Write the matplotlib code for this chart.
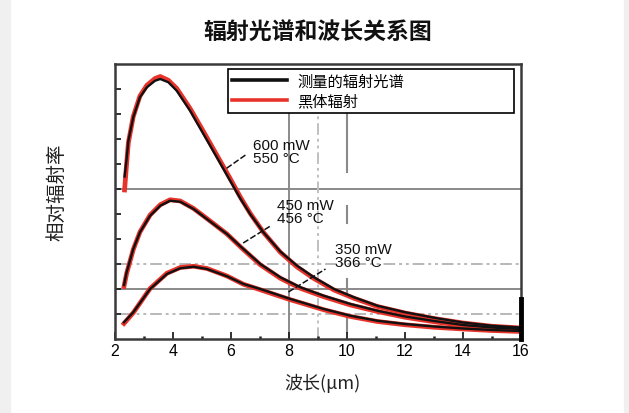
import matplotlib
matplotlib.use("Agg")
import matplotlib.pyplot as plt
from matplotlib.lines import Line2D
from matplotlib.patches import Rectangle

plt.rcParams['font.family'] = ['Liberation Sans', 'Noto Sans CJK SC', 'DejaVu Sans']
CJK = ['Noto Sans CJK SC', 'DejaVu Sans']

# === data ===
title = "辐射光谱和波长关系图"
x_label = "波长(μm)"
y_label = "相对辐射率"
legend_labels = ["测量的辐射光谱", "黑体辐射"]
x_ticks = [2, 4, 6, 8, 10, 12, 14, 16]
curve_names = ["600 mW\n550 °C", "450 mW\n456 °C", "350 mW\n366 °C"]

# 600 mW / 550 °C
x_600 = [2.33, 2.40, 2.46, 2.63, 2.86, 3.10, 3.38, 3.56, 3.84, 4.13, 4.59, 5.05, 5.51, 5.97,
         6.32, 6.67, 7.13, 7.70, 8.28, 8.86, 9.55, 10.24, 11.05, 12.0, 13.0, 14.0, 15.0, 16.0]
meas_600 = [6.5, 7.2, 7.93, 8.87, 9.67, 10.07, 10.33, 10.4, 10.27, 9.93, 9.13, 8.2, 7.27, 6.33,
            5.62, 4.98, 4.25, 3.5, 2.93, 2.47, 2.0, 1.67, 1.33, 1.07, 0.85, 0.66, 0.53, 0.46]
bb_600 = [5.96, 7.0, 7.85, 8.9, 9.72, 10.15, 10.42, 10.5, 10.35, 10.02, 9.22, 8.3, 7.36, 6.42,
          5.68, 5.01, 4.25, 3.47, 2.88, 2.42, 1.96, 1.63, 1.3, 1.04, 0.82, 0.64, 0.51, 0.44]

# 450 mW / 456 °C
x_450 = [2.31, 2.40, 2.63, 2.86, 3.21, 3.56, 3.90, 4.25, 4.71, 5.28, 5.86, 6.35, 7.01, 7.70,
         8.39, 9.20, 10.12, 11.05, 12.0, 13.0, 14.0, 15.0, 16.0]
meas_450 = [2.16, 2.67, 3.6, 4.27, 4.93, 5.33, 5.53, 5.49, 5.2, 4.7, 4.2, 3.68, 3.0, 2.47,
            2.07, 1.73, 1.4, 1.13, 0.9, 0.72, 0.56, 0.46, 0.4]
bb_450 = [2.1, 2.62, 3.58, 4.28, 4.96, 5.37, 5.57, 5.52, 5.22, 4.72, 4.2, 3.66, 2.97, 2.43,
          2.03, 1.69, 1.36, 1.1, 0.87, 0.69, 0.54, 0.44, 0.38]

# 350 mW / 366 °C
x_350 = [2.31, 2.63, 3.21, 3.79, 4.25, 4.71, 5.17, 5.86, 6.43, 7.01, 8.05, 9.20, 10.12,
         11.05, 12.0, 13.0, 14.0, 15.0, 16.0]
meas_350 = [0.67, 1.07, 2.0, 2.6, 2.83, 2.89, 2.8, 2.51, 2.2, 2.0, 1.6, 1.2, 0.93,
            0.73, 0.6, 0.5, 0.42, 0.36, 0.32]
bb_350 = [0.62, 1.05, 2.02, 2.63, 2.86, 2.91, 2.82, 2.52, 2.19, 1.97, 1.57, 1.17, 0.9,
          0.7, 0.57, 0.47, 0.4, 0.34, 0.3]

RED = '#e8332b'
BLACK = '#111111'

fig = plt.figure(figsize=(6.29, 4.14), dpi=100)
fig.patches.append(Rectangle((0, 0), 10 / 629, 1, transform=fig.transFigure,
                             color='#f0f0f0', zorder=0))
fig.patches.append(Rectangle((624 / 629, 0), 5 / 629, 1, transform=fig.transFigure,
                             color='#f0f0f0', zorder=0))

ax = fig.add_axes([115 / 629, 74 / 414, 406 / 629, 275.5 / 414])
ax.set_xlim(2, 16)
ax.set_ylim(0, 11.02)

# reference lines
ax.axhline(6, color='#8a8a8a', lw=1.4, zorder=1)
ax.axhline(2, color='#8a8a8a', lw=1.4, zorder=1)
for yv in (3, 1):
    ax.plot([2.2, 16], [yv, yv], color='#b8b8b8', lw=1.4,
            dashes=(6, 2, 1.5, 2, 1.5, 2), zorder=1)
ax.plot([8, 8], [0, 9.0], color='#8a8a8a', lw=1.4, zorder=1)
ax.plot([9, 9], [0, 9.0], color='#c0c0c0', lw=1.4, dashes=(6, 2, 1.5, 2, 1.5, 2), zorder=1)
for y0, y1 in [(6.68, 9.0), (4.64, 5.32), (1.88, 2.4), (0.28, 0.92)]:
    ax.plot([10, 10], [y0, y1], color='#8a8a8a', lw=1.5, zorder=1)

# curves: blackbody (red) under measured (black)
for xs, bb in [(x_600, bb_600), (x_450, bb_450), (x_350, bb_350)]:
    ax.plot(xs, bb, color=RED, lw=3.4, zorder=3, solid_joinstyle='round')
for xs, ms in [(x_600, meas_600), (x_450, meas_450), (x_350, meas_350)]:
    ax.plot(xs, ms, color=BLACK, lw=1.7, zorder=4, solid_joinstyle='round')

# curve labels with leader lines
labels_at = [(6.77, 8.04), (7.6, 5.64), (9.57, 3.88)]
leaders = [((5.85, 6.55), (6.83, 7.4)), ((6.42, 7.36), (3.84, 4.52)), ((7.98, 9.26), (1.88, 2.8))]
for name, (tx, ty), (lx, ly) in zip(curve_names, labels_at, leaders):
    ax.text(tx, ty, name, ha='left', va='top', fontsize=11, linespacing=0.95,
            color='#111111', zorder=5)
    ax.plot(lx, ly, color='#111111', lw=1.1, dashes=(4, 1.5), zorder=5)

# legend
handles = [Line2D([], [], color=BLACK, lw=2.6), Line2D([], [], color=RED, lw=2.6)]
leg = ax.legend(handles, legend_labels, loc='upper left',
                bbox_to_anchor=(0.278, 0.0, 0.705, 0.98), mode='expand',
                borderaxespad=0, fancybox=False, framealpha=1, edgecolor='black',
                prop={'family': CJK, 'size': 11}, handlelength=3.6,
                handletextpad=0.7, labelspacing=0.15, borderpad=0.25)
leg.get_frame().set_linewidth(1.2)
leg.set_zorder(6)

# axes styling
for side in ax.spines:
    ax.spines[side].set_color('#3a3a3a')
    ax.spines[side].set_linewidth(1.8)
ax.plot([16, 16], [0, 1.6], color='black', lw=3.5, zorder=7, clip_on=False)

ax.set_xticks(x_ticks)
ax.set_xticks(range(3, 16, 2), minor=True)
ax.set_xticklabels([str(t) for t in x_ticks], fontsize=11.5)
ax.tick_params(axis='x', which='major', direction='in', length=5, width=1.3,
               color='#222222', pad=3)
ax.tick_params(axis='x', which='minor', direction='in', length=2.5, width=1.8,
               color='#222222')
ax.set_yticks(range(1, 11))
ax.set_yticklabels([])
ax.tick_params(axis='y', which='major', direction='in', length=4, width=1.3,
               color='#222222')

fig.text(318 / 629, 1 - 33 / 414, title, ha='center', va='center', fontsize=16.5,
         fontweight='bold', family=CJK, color='#111111')
fig.text(322 / 629, 1 - 383 / 414, x_label, ha='center', va='center', fontsize=13,
         family=CJK, color='#222222')
fig.text(57 / 629, 1 - 192 / 414, y_label, ha='center', va='center', fontsize=14,
         family=CJK, rotation=90, color='#222222')

fig.savefig('out.png', dpi=100)
